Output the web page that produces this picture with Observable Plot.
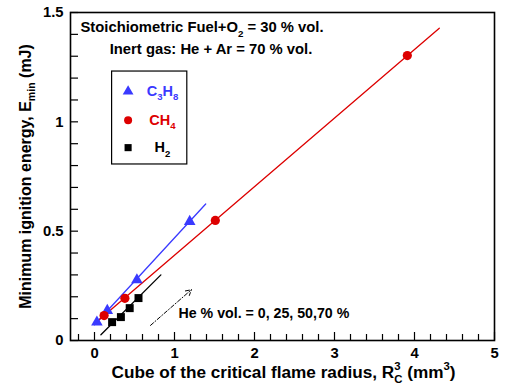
<!DOCTYPE html>
<html>
<head>
<meta charset="utf-8">
<script src="https://cdn.jsdelivr.net/npm/d3@7"></script>
<script src="https://cdn.jsdelivr.net/npm/@observablehq/plot@0.6"></script>
<style>
  body { margin: 0; background: #fff; }
  #chart svg { font-family: "Liberation Sans", Arial, sans-serif; }
</style>
</head>
<body>
<div id="chart"></div>
<script>
// Minimum ignition energy (mJ) against the cube of the critical flame radius (mm^3)
const c3h8X = [0.03, 0.16, 0.53, 1.19];
const c3h8Y = [0.084, 0.137, 0.277, 0.544];
const ch4X = [0.12, 0.38, 1.51, 3.91];
const ch4Y = [0.114, 0.193, 0.549, 1.303];
const h2X = [0.22, 0.33, 0.44, 0.55];
const h2Y = [0.084, 0.107, 0.148, 0.194];

// Straight-line fits (end points)
const c3h8FitX = [0.0, 1.39];
const c3h8FitY = [0.072, 0.624];
const ch4FitX = [0.03, 4.31];
const ch4FitY = [0.086, 1.428];
const h2FitX = [0.08, 0.83];
const h2FitY = [0.026, 0.30];

// Axis ticks
const xTicks = [0, 1, 2, 3, 4, 5];
const xMinor = d3.range(-0.2, 5.001, 0.2).map(v => +v.toFixed(1)).filter(v => !xTicks.includes(v));
const yTicks = [0, 0.5, 1, 1.5];
const yMinor = d3.range(0.1, 1.5, 0.1).map(v => +v.toFixed(1)).filter(v => !yTicks.includes(v));

// Legend entries
const legendNames = ["C_{3}H_{8}", "CH_{4}", "H_{2}"];
const legendSymbols = ["triangle", "circle", "square"];
const legendColors = ["#3a3aff", "#dd0000", "#000000"];
const legendY = [1.139, 1.007, 0.882];
const legendBox = [{x1: 0.22, x2: 1.16, y1: 0.805, y2: 1.23}];

// Notes
const headerNotes = [
  {x: -0.175, y: 1.431, text: "Stoichiometric Fuel+O_{2} = 30 % vol."},
  {x: 0.19, y: 1.332, text: "Inert gas: He + Ar = 70 % vol."}
];
const heNote = [{x: 1.05, y: 0.122, text: "He % vol. = 0, 25, 50,70 %"}];
const heArrow = [{x1: 0.70, y1: 0.069, x2: 1.21, y2: 0.232}];

const zip = (xs, ys) => xs.map((x, i) => ({x, y: ys[i]}));
const legend = legendNames.map((name, i) => ({name, symbol: legendSymbols[i], color: legendColors[i], y: legendY[i]}));

const chart = Plot.plot({
  width: 507,
  height: 391,
  marginLeft: 70,
  marginRight: 13,
  marginTop: 12,
  marginBottom: 51,
  style: {fontFamily: "Liberation Sans, Arial, sans-serif", fontWeight: "bold", fontSize: "14px", color: "#000", background: "#fff"},
  x: {domain: [-0.3, 5]},
  y: {domain: [0, 1.5]},
  marks: [
    // inward ticks
    Plot.tickX(xTicks, {x: d => d, insetTop: 320, stroke: "#000", strokeWidth: 1.2}),
    Plot.tickX(xMinor, {x: d => d, insetTop: 322, stroke: "#000", strokeWidth: 1.2}),
    Plot.tickY(yTicks, {y: d => d, insetRight: 416, stroke: "#000", strokeWidth: 1.2}),
    Plot.tickY(yMinor, {y: d => d, insetRight: 416, stroke: "#000", strokeWidth: 1.2}),
    Plot.axisX({ticks: xTicks, tickSize: 0, tickPadding: 7, tickFormat: d => String(d), label: null, fontSize: 14.8, fontWeight: "bold"}),
    Plot.axisY({ticks: yTicks, tickSize: 0, tickPadding: 7, tickFormat: d => String(d), label: null, fontSize: 14.8, fontWeight: "bold"}),
    // axis titles
    Plot.text(["Cube of the critical flame radius, R_{C}^{3} (mm^{3})"], {frameAnchor: "bottom", dx: 1, dy: 37, text: d => d, fontSize: 17.2, fontWeight: "bold", fill: "#000"}),
    Plot.text(["Minimum ignition energy, E_{min} (mJ)"], {frameAnchor: "left", textAnchor: "middle", dx: -45, rotate: -90, text: d => d, fontSize: 16, fontWeight: "bold", fill: "#000"}),
    // fitted lines
    Plot.line(zip(c3h8FitX, c3h8FitY), {x: "x", y: "y", stroke: "#3a3aff", strokeWidth: 1.3}),
    Plot.line(zip(ch4FitX, ch4FitY), {x: "x", y: "y", stroke: "#dd0000", strokeWidth: 1.3}),
    Plot.line(zip(h2FitX, h2FitY), {x: "x", y: "y", stroke: "#000", strokeWidth: 1.3}),
    // measurements
    Plot.dot(zip(c3h8X, c3h8Y), {x: "x", y: "y", symbol: "triangle", r: 4.3, fill: "#3a3aff"}),
    Plot.dot(zip(ch4X, ch4Y), {x: "x", y: "y", symbol: "circle", r: 4.6, fill: "#dd0000"}),
    Plot.dot(zip(h2X, h2Y), {x: "x", y: "y", symbol: "square", r: 4.5, fill: "#000"}),
    // legend
    Plot.rect(legendBox, {x1: "x1", x2: "x2", y1: "y1", y2: "y2", fill: "none", stroke: "#000", strokeWidth: 1.2}),
    Plot.dot(legend, {x: 0.42, y: "y", symbol: "symbol", fill: "color", r: 4}),
    Plot.text(legend, {x: 0.85, y: "y", text: "name", fill: "color", fontSize: 14.5, fontWeight: "bold"}),
    // notes
    Plot.text(headerNotes, {x: "x", y: "y", text: "text", textAnchor: "start", fontSize: 14.8, fontWeight: "bold", fill: "#000"}),
    Plot.text(heNote, {x: "x", y: "y", text: "text", textAnchor: "start", fontSize: 14.2, fontWeight: "bold", fill: "#000"}),
    Plot.arrow(heArrow, {x1: "x1", y1: "y1", x2: "x2", y2: "y2", stroke: "#000", strokeWidth: 1, strokeDasharray: "4,2,1,2", headLength: 9, bend: 0}),
    Plot.frame({stroke: "#000", strokeWidth: 1.6})
  ]
});

document.getElementById("chart").appendChild(chart);

// Turn _{..} and ^{..} markup into subscript / superscript tspans;
// a superscript that directly follows a subscript is stacked above it.
const NS = "http://www.w3.org/2000/svg";
function richText(el) {
  const src = el.textContent;
  if (!/[_^]\{/.test(src)) return;
  const fs = parseFloat(getComputedStyle(el).fontSize) || 14;
  const parts = [];
  const re = /([_^])\{([^}]*)\}/g;
  let last = 0, m;
  while ((m = re.exec(src))) {
    if (m.index > last) parts.push({t: src.slice(last, m.index), k: ""});
    parts.push({t: m[2], k: m[1]});
    last = re.lastIndex;
  }
  if (last < src.length) parts.push({t: src.slice(last), k: ""});
  while (el.firstChild) el.removeChild(el.firstChild);
  let cur = 0, prev = null, pendingDx = 0;
  for (const p of parts) {
    const ts = document.createElementNS(NS, "tspan");
    ts.textContent = p.t;
    const off = p.k === "_" ? 0.3 * fs : p.k === "^" ? -0.42 * fs : 0;
    if (off !== cur) ts.setAttribute("dy", off - cur);
    cur = off;
    if (p.k) ts.setAttribute("font-size", 0.66 * fs);
    el.appendChild(ts);
    let dx = pendingDx;
    pendingDx = 0;
    if (p.k === "^" && prev && prev.k === "_") {
      const subLen = prev.node.getComputedTextLength();
      const supLen = ts.getComputedTextLength();
      dx -= subLen;
      pendingDx = Math.max(0, subLen - supLen);
    }
    if (dx) ts.setAttribute("dx", dx);
    prev = {k: p.k, node: ts};
  }
}
chart.querySelectorAll("text").forEach(richText);
</script>
</body>
</html>
